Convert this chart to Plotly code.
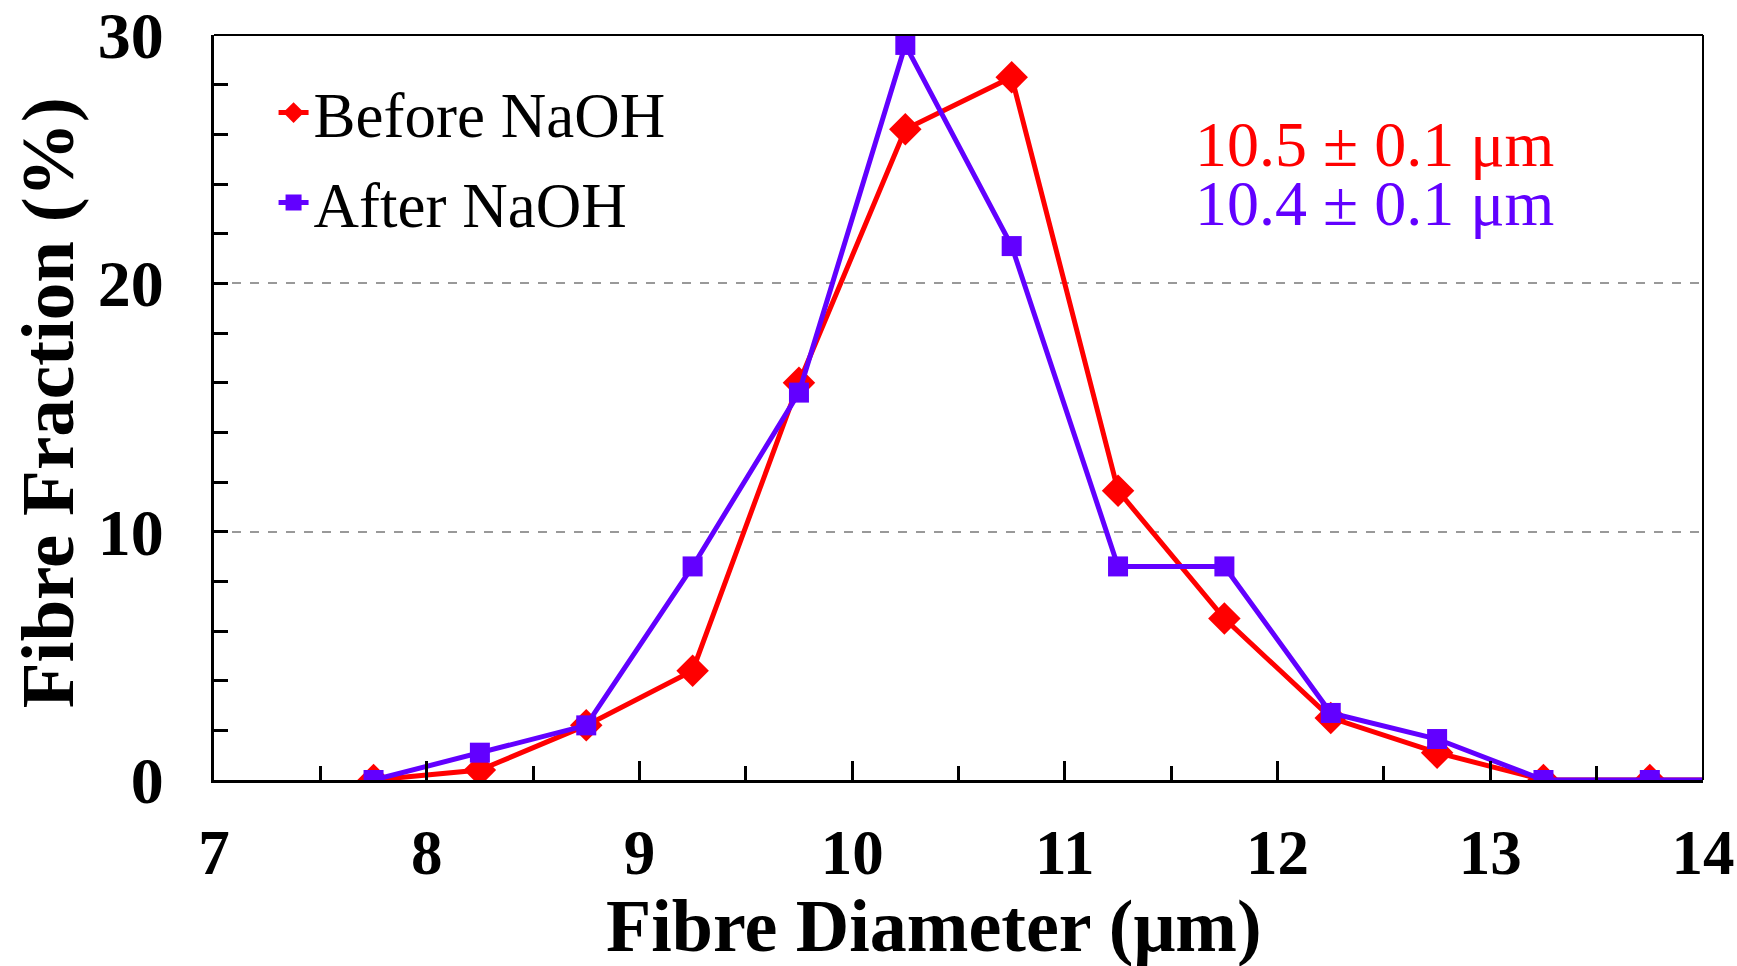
import plotly.graph_objects as go

diameters = [7.75, 8.25, 8.75, 9.25, 9.75, 10.25, 10.75, 11.25, 11.75, 12.25, 12.75, 13.25, 13.75, 14.25]
before_naoh = [0.0, 0.4, 2.2, 4.4, 16.0, 26.2, 28.3, 11.65, 6.5, 2.5, 1.1, 0.0, 0.0, 0.0]
after_naoh = [0.0, 1.1, 2.2, 8.6, 15.6, 29.6, 21.5, 8.6, 8.6, 2.7, 1.65, 0.0, 0.0, 0.0]
series_names = ["Before NaOH", "After NaOH"]
mean_labels = ["10.5 ± 0.1 μm", "10.4 ± 0.1 μm"]

RED = "#FF0000"
PURPLE = "#6200FF"
FONT = "Liberation Serif"

fig = go.Figure()
fig.add_trace(go.Scatter(
    x=diameters, y=before_naoh, name=series_names[0], mode="lines+markers",
    line=dict(color=RED, width=5),
    marker=dict(symbol="diamond", size=25, color=RED),
    legendgroup="a",
))
fig.add_trace(go.Scatter(
    x=diameters, y=after_naoh, name=series_names[1], mode="lines+markers",
    line=dict(color=PURPLE, width=5),
    marker=dict(symbol="square", size=20, color=PURPLE),
    legendgroup="b",
))

L, R, T, B = 214, 34, 35, 186
fig.update_layout(
    width=1737, height=966,
    margin=dict(l=L, r=R, t=T, b=B, pad=0, autoexpand=False),
    paper_bgcolor="white", plot_bgcolor="white",
    font=dict(family=FONT, color="black"),
    showlegend=True,
    legend=dict(
        x=0.04, y=0.9595, xanchor="left", yanchor="top",
        font=dict(family=FONT, size=63, color="black"),
        bgcolor="rgba(0,0,0,0)", borderwidth=0,
        tracegroupgap=5, itemwidth=30,
    ),
    xaxis=dict(
        range=[7, 14], tickmode="linear", tick0=7, dtick=1,
        ticks="inside", ticklen=19, tickwidth=2.5, tickcolor="black",
        minor=dict(dtick=0.5, tick0=7, ticks="inside", ticklen=14, tickwidth=2.5, tickcolor="black"),
        showline=True, linecolor="black", linewidth=3, mirror=False,
        showgrid=False, zeroline=False, automargin=False,
        tickfont=dict(family=FONT, size=63, color="black", weight="bold"),
        ticklabelstandoff=15, ticklabeloverflow="allow",
    ),
    yaxis=dict(
        range=[0, 30], tickmode="linear", tick0=0, dtick=10,
        ticks="inside", ticklen=14, tickwidth=2.5, tickcolor="black",
        minor=dict(dtick=2, tick0=0, ticks="inside", ticklen=14, tickwidth=2.5, tickcolor="black"),
        showline=True, linecolor="black", linewidth=3, mirror=False,
        showgrid=True, gridcolor="#999999", gridwidth=1.5, griddash="dash",
        zeroline=False, automargin=False,
        tickfont=dict(family=FONT, size=66, color="black", weight="bold"),
        ticklabelstandoff=34, ticklabeloverflow="allow",
    ),
    shapes=[
        dict(type="line", xref="paper", yref="paper", x0=0, x1=1, y0=1, y1=1,
             line=dict(color="black", width=2)),
        dict(type="line", xref="paper", yref="paper", x0=1, x1=1, y0=0, y1=1,
             line=dict(color="black", width=2)),
    ],
    annotations=[
        dict(text="Fibre Diameter (μm)", xref="paper", yref="paper",
             x=0.4837, y=-0.196, xanchor="center", yanchor="middle", showarrow=False,
             font=dict(family=FONT, size=74, color="black", weight="bold")),
        dict(text="Fibre Fraction (%)", xref="paper", yref="paper",
             x=-0.112, y=0.506, xanchor="center", yanchor="middle", showarrow=False,
             textangle=-90,
             font=dict(family=FONT, size=75, color="black", weight="bold")),
        dict(text=mean_labels[0], xref="paper", yref="paper",
             x=0.901, y=0.853, xanchor="right", yanchor="middle", showarrow=False,
             font=dict(family=FONT, size=64, color=RED)),
        dict(text=mean_labels[1], xref="paper", yref="paper",
             x=0.901, y=0.774, xanchor="right", yanchor="middle", showarrow=False,
             font=dict(family=FONT, size=64, color=PURPLE)),
    ],
)

fig.write_html("out.html")
